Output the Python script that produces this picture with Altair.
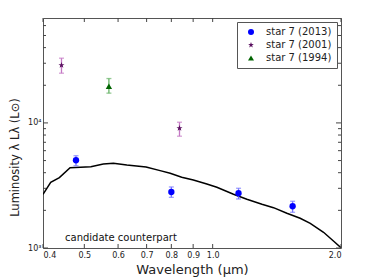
import altair as alt
import pandas as pd

# model SED curve (wavelength in micron, luminosity in Lsun)
curve_wl = [0.400, 0.417, 0.437, 0.463, 0.518, 0.554, 0.585, 0.629, 0.698, 0.753,
            0.795, 0.846, 0.901, 0.969, 1.023, 1.119, 1.203, 1.305, 1.389, 1.493,
            1.604, 1.694, 1.820, 1.920, 2.000]
curve_lum = [2689, 3355, 3650, 4389, 4472, 4699, 4760, 4613, 4446, 4154,
             3959, 3678, 3499, 3251, 3059, 2689, 2452, 2237, 2101, 1895,
             1729, 1576, 1335, 1138, 1005]

# photometry
series_names = ["star 7 (2013)", "star 7 (2001)", "star 7 (1994)"]
obs_series = ["star 7 (2013)"] * 4 + ["star 7 (2001)"] * 2 + ["star 7 (1994)"]
obs_wl = [0.478, 0.800, 1.150, 1.540, 0.442, 0.836, 0.571]
obs_lum = [5030, 2805, 2739, 2156, 28940, 9070, 19660]
obs_lo = [4550, 2541, 2466, 1930, 24980, 7830, 17300]
obs_hi = [5470, 3076, 3003, 2364, 32930, 10130, 22640]

# axis ticks
x_ticks = [0.4, 0.5, 0.6, 0.7, 0.8, 0.9, 1.0, 2.0]
y_major = [1000, 10000]
y_minor = [2000, 3000, 4000, 5000, 6000, 7000, 8000, 9000,
           20000, 30000, 40000, 50000, 60000]

W, H = 298, 230
FONT = "DejaVu Sans"
marker_colors = ["#0000ff", "#5a1060", "#006400"]
err_colors = ["#7777ff", "#c478c4", "#66b366"]
STAR = ("M0,-1L0.235,-0.324L0.951,-0.309L0.380,0.124L0.588,0.809L0,0.4"
        "L-0.588,0.809L-0.380,0.124L-0.951,-0.309L-0.235,-0.324Z")

curve_df = pd.DataFrame({"wl": curve_wl, "lum": curve_lum})
obs_df = pd.DataFrame({"series": obs_series, "wl": obs_wl, "lum": obs_lum,
                       "lo": obs_lo, "hi": obs_hi})

xscale = alt.Scale(type="log", domain=[0.4, 2.0], nice=False)
yscale = alt.Scale(type="log", domain=[1000, 69000], nice=False)

xaxis = alt.Axis(values=x_ticks, format=".1f", ticks=False, domain=False, grid=False,
                 labelFontSize=8, labelColor="#222", labelPadding=3, labelFont=FONT,
                 title="Wavelength (μm)", titleFontSize=13, titleFont=FONT,
                 titleFontWeight="normal", titleColor="#222", titlePadding=4)
yaxis = alt.Axis(values=y_major, labelExpr="datum.value == 1000 ? '10³' : '10⁴'",
                 ticks=False, domain=False, grid=False,
                 labelFontSize=8, labelColor="#222", labelPadding=2, labelFont=FONT,
                 title="Luminosity λ Lλ (L⊙)", titleFontSize=11.5, titleFont=FONT,
                 titleFontWeight="normal", titleColor="#222", titlePadding=7,
                 titleY=139)


def X(f):
    return alt.X(f, scale=xscale, axis=xaxis)


def Y(f):
    return alt.Y(f, scale=yscale, axis=yaxis)


line = alt.Chart(curve_df).mark_line(color="black", strokeWidth=1.5, clip=True).encode(
    x=X("wl:Q"), y=Y("lum:Q"))

err_layers = []
for name, col in zip(series_names, err_colors):
    base = alt.Chart(obs_df).transform_filter(alt.datum.series == name)
    err_layers.append(base.mark_rule(strokeWidth=1.3, color=col).encode(
        x=X("wl:Q"), y=Y("lo:Q"), y2="hi:Q"))
    err_layers.append(base.mark_tick(orient="horizontal", size=5, thickness=1.3,
                                     color=col).encode(x=X("wl:Q"), y=Y("lo:Q")))
    err_layers.append(base.mark_tick(orient="horizontal", size=5, thickness=1.3,
                                     color=col).encode(x=X("wl:Q"), y=Y("hi:Q")))

pts = alt.Chart(obs_df).mark_point(filled=True, size=40, opacity=1).encode(
    x=X("wl:Q"), y=Y("lum:Q"),
    color=alt.Color("series:N", scale=alt.Scale(domain=series_names, range=marker_colors),
                    legend=alt.Legend(title=None)),
    shape=alt.Shape("series:N", scale=alt.Scale(domain=series_names,
                                                range=["circle", STAR, "triangle-up"]),
                    legend=alt.Legend(title=None)),
)

# inward ticks on all four sides
xt = pd.DataFrame({"v": x_ticks})
ymaj = pd.DataFrame({"v": y_major})
ymin = pd.DataFrame({"v": y_minor})
tick_style = dict(color="#444", strokeWidth=1)
xt_bot = alt.Chart(xt).mark_rule(**tick_style).encode(
    x=X("v:Q"), y=alt.value(H), y2=alt.value(H - 4))
xt_top = alt.Chart(xt).mark_rule(**tick_style).encode(
    x=X("v:Q"), y=alt.value(0), y2=alt.value(4))
ymaj_l = alt.Chart(ymaj).mark_rule(**tick_style).encode(
    y=Y("v:Q"), x=alt.value(0), x2=alt.value(5))
ymaj_r = alt.Chart(ymaj).mark_rule(**tick_style).encode(
    y=Y("v:Q"), x=alt.value(W), x2=alt.value(W - 5))
ymin_l = alt.Chart(ymin).mark_rule(**tick_style).encode(
    y=Y("v:Q"), x=alt.value(0), x2=alt.value(3))
ymin_r = alt.Chart(ymin).mark_rule(**tick_style).encode(
    y=Y("v:Q"), x=alt.value(W), x2=alt.value(W - 3))

label = alt.Chart(pd.DataFrame({"t": ["candidate counterpart"]})).mark_text(
    align="left", baseline="middle", fontSize=10, font=FONT, color="#111"
).encode(text="t:N", x=alt.value(22), y=alt.value(220))

chart = alt.layer(
    line, *err_layers, pts,
    xt_bot, xt_top, ymaj_l, ymaj_r, ymin_l, ymin_r, label
).properties(
    width=W, height=H,
    autosize=alt.AutoSizeParams(type="none"),
    padding={"left": 35, "top": 10, "right": 30, "bottom": 29},
).configure_view(
    stroke="#555", strokeWidth=1
).configure_legend(
    orient="top-right", offset=4, padding=5, strokeColor="#555", fillColor="white",
    labelFontSize=10, labelFont=FONT, labelColor="#222", symbolSize=36,
    rowPadding=3, cornerRadius=0, labelOffset=10, symbolOffset=4
)

chart.save("out.html", embed_options={"renderer": "svg", "actions": False})
